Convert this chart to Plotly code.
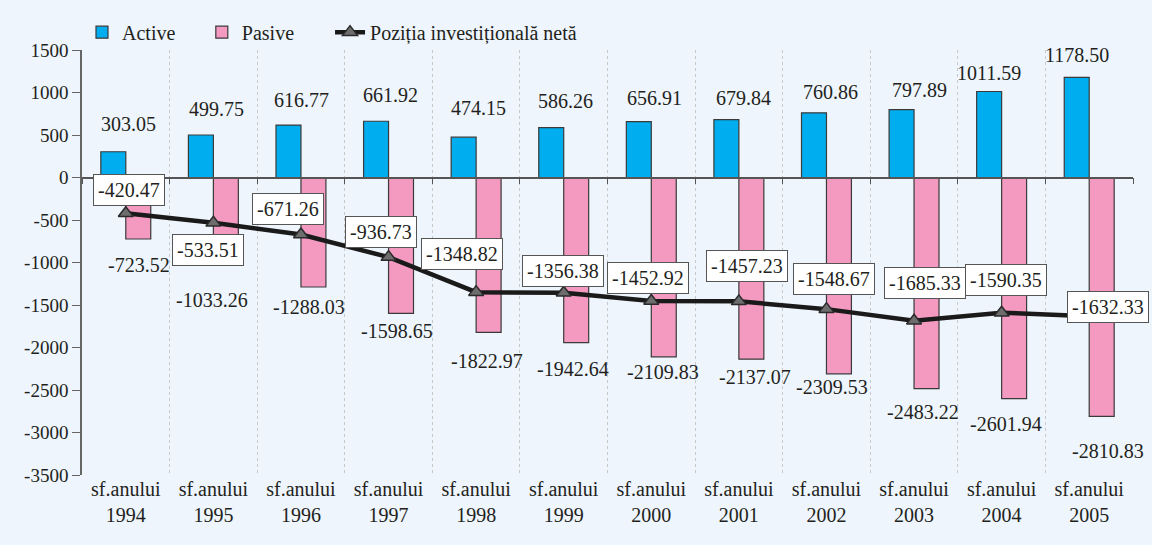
import plotly.graph_objects as go

years = ["1994", "1995", "1996", "1997", "1998", "1999", "2000", "2001", "2002", "2003", "2004", "2005"]
categories = ["sf.anului<br>" + y for y in years]
active = [303.05, 499.75, 616.77, 661.92, 474.15, 586.26, 656.91, 679.84, 760.86, 797.89, 1011.59, 1178.50]
pasive = [-723.52, -1033.26, -1288.03, -1598.65, -1822.97, -1942.64, -2109.83, -2137.07, -2309.53, -2483.22, -2601.94, -2810.83]
net = [-420.47, -533.51, -671.26, -936.73, -1348.82, -1356.38, -1452.92, -1457.23, -1548.67, -1685.33, -1590.35, -1632.33]
ytick_vals = [1500, 1000, 500, 0, -500, -1000, -1500, -2000, -2500, -3000, -3500]
ytick_text = ["1500", "1000", "500", "0", "-500", "-1000", "-1500", "-2000", "-2500", "-3000", "-3500"]

# label placement offsets in pixels (xshift, yshift of label centre from its point)
act_shift = [(3, 28), (3, 26), (1, 25), (2, 26), (2, 29), (2, 27), (3, 24), (5, 22), (4, 21), (5, 20), (-13, 19), (-12, 22)]
pas_shift = [(13, -26), (-1, -35), (8, -20), (8, -18), (11, -29), (9, -26), (12, -15), (16, -18), (6, -13), (9, -23), (4, -25), (19, -35)]
net_shift = [(3, 23), (-5, -27), (-13, 26), (-8, 25), (-14, 38), (-1, 22), (-3, 23), (8, 35), (8, 30), (11, 38), (4, 33), (19, 9)]

FONT = "Liberation Serif"
TXT = "#231f20"
BG = "#eef5fc"

def fmt(v):
    return ("-" if v < 0 else "") + f"{abs(v):.2f}"

fig = go.Figure()
fig.add_trace(go.Bar(x=categories, y=active, name="Active", legend="legend",
                     marker=dict(color="#00aeef", line=dict(color="#3a3a3a", width=1.2))))
fig.add_trace(go.Bar(x=categories, y=pasive, name="Pasive", legend="legend2",
                     marker=dict(color="#f49ac1", line=dict(color="#3a3a3a", width=1.2))))
fig.add_trace(go.Scatter(x=categories, y=net, name="Poziția investițională netă", legend="legend3",
                         mode="lines+markers",
                         line=dict(color="#1a1a1a", width=4.5),
                         marker=dict(symbol="triangle-up", size=13, color="#6d6d6d",
                                     line=dict(color="#2a2a2a", width=1.5))))
# helper axis at zero level with boundary ticks
fig.add_trace(go.Scatter(x=categories, y=[None] * len(categories), xaxis="x2",
                         showlegend=False, hoverinfo="skip", mode="lines"))

ann = []
for i, c in enumerate(categories):
    dx, dy = act_shift[i]
    ann.append(dict(x=c, y=active[i], text=fmt(active[i]), showarrow=False,
                    xshift=dx, yshift=dy, font=dict(family=FONT, size=20, color=TXT)))
    dx, dy = pas_shift[i]
    ann.append(dict(x=c, y=pasive[i], text=fmt(pasive[i]), showarrow=False,
                    xshift=dx, yshift=dy, font=dict(family=FONT, size=20, color=TXT)))
    dx, dy = net_shift[i]
    ann.append(dict(x=c, y=net[i], text=fmt(net[i]), showarrow=False,
                    xshift=dx, yshift=dy, bgcolor="white", bordercolor="#555555",
                    borderwidth=1, borderpad=4,
                    font=dict(family=FONT, size=20, color=TXT)))

xr = [-0.5, len(categories) - 0.5]

def leg(xpos):
    return dict(orientation="h", x=xpos, y=1.042, yanchor="middle", xanchor="left",
                bgcolor="rgba(0,0,0,0)", font=dict(family=FONT, size=20, color=TXT),
                itemwidth=30)

fig.update_layout(
    template="none",
    width=1152, height=545,
    paper_bgcolor=BG, plot_bgcolor=BG,
    margin=dict(l=82, r=19, t=50, b=70, autoexpand=False),
    barmode="group", bargap=0.43, bargroupgap=0,
    font=dict(family=FONT, size=20, color=TXT),
    showlegend=True,
    legend=leg(0.0), legend2=leg(0.114), legend3=leg(0.236),
    annotations=ann,
    xaxis=dict(type="category", tickson="boundaries", showgrid=True, range=xr,
               gridcolor="#c8c8c8", griddash="dot", gridwidth=1,
               ticks="", showline=False, zeroline=False, automargin=False,
               tickfont=dict(family=FONT, size=20, color=TXT)),
    xaxis2=dict(type="category", overlaying="x", anchor="free", position=0.7,
                categoryorder="array", categoryarray=categories, range=xr,
                tickson="boundaries", ticks="outside", ticklen=6, tickcolor="#555555",
                showticklabels=False, showgrid=False, showline=True,
                linecolor="#555555", linewidth=1.5, zeroline=False),
    yaxis=dict(range=[-3500, 1500], tickvals=ytick_vals, ticktext=ytick_text,
               showgrid=False, zeroline=False, showline=True, linecolor="#666666",
               linewidth=1.5, ticks="outside", ticklen=8, tickcolor="#666666",
               automargin=False,
               tickfont=dict(family=FONT, size=19, color=TXT)),
)

fig.write_html("out.html", post_script="document.body.style.margin='0';",
               config={"displayModeBar": False})
